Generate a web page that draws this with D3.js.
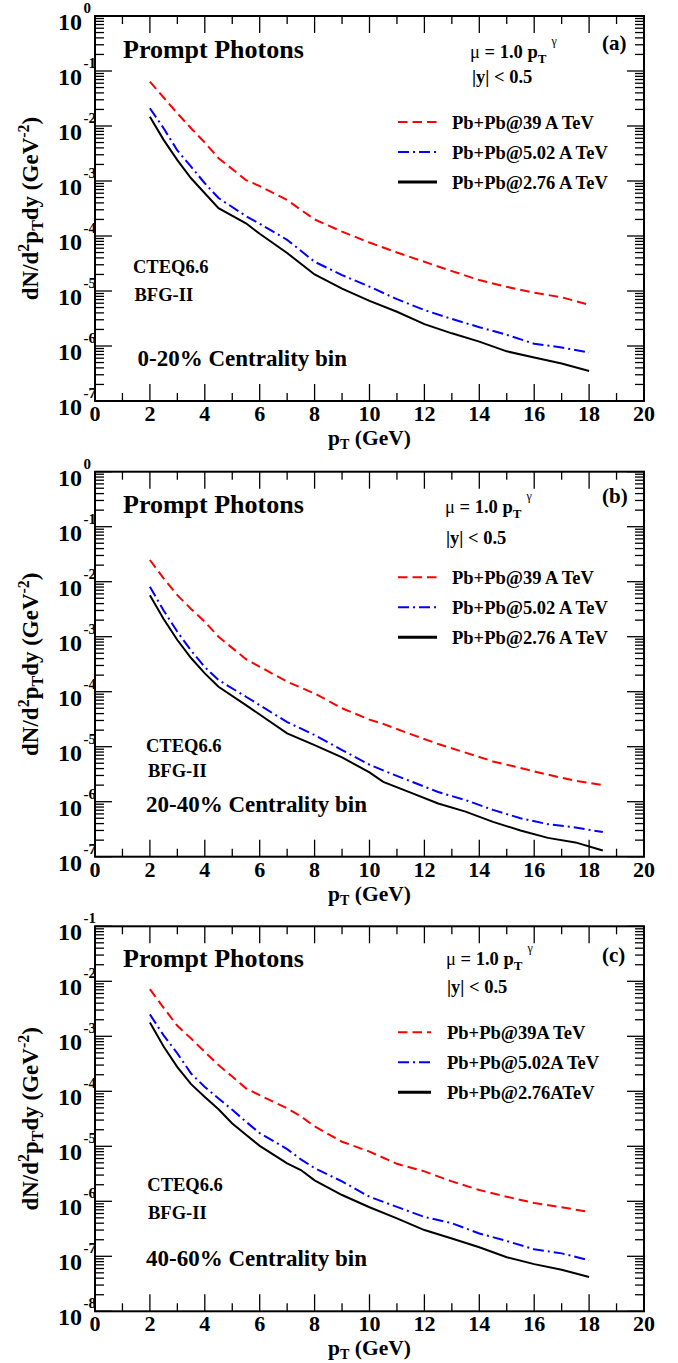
<!DOCTYPE html>
<html><head><meta charset="utf-8">
<script src="https://cdn.jsdelivr.net/npm/d3@7/dist/d3.min.js"></script>
<style>
body{margin:0;background:#fff}
text{font-family:"Liberation Serif","Times New Roman",serif;font-weight:bold;fill:#000}
</style>
</head><body>
<svg id="chart" width="678" height="1363"></svg>
<script>
// ---------- data ----------
const seriesLabelsAB = ["Pb+Pb@39 A TeV", "Pb+Pb@5.02 A TeV", "Pb+Pb@2.76 A TeV"];
const seriesLabelsC  = ["Pb+Pb@39A TeV", "Pb+Pb@5.02A TeV", "Pb+Pb@2.76ATeV"];
const xTicks = [0,2,4,6,8,10,12,14,16,18,20];

// panel (a) 0-20%
const pT_a = [2,2.5,3,3.5,4,4.5,5.5,6,7,8,9,10,11,12,13,14,15,16,17,18];
const a_39   = [0.064,0.033,0.017,9.1e-3,5.0e-3,2.6e-3,1.04e-3,8.1e-4,4.5e-4,2.0e-4,1.2e-4,7.6e-5,5.0e-5,3.4e-5,2.3e-5,1.58e-5,1.19e-5,9.3e-6,7.7e-6,5.6e-6];
const a_502  = [0.021,9.1e-3,3.6e-3,1.82e-3,9.1e-4,4.9e-4,2.3e-4,1.67e-4,8.5e-5,3.4e-5,1.95e-5,1.2e-5,7.1e-6,4.5e-6,3.1e-6,2.2e-6,1.6e-6,1.1e-6,9.4e-7,7.6e-7];
const a_276  = [0.0148,5.6e-3,2.4e-3,1.12e-3,6.0e-4,3.2e-4,1.7e-4,1.1e-4,4.9e-5,2.0e-5,1.1e-5,6.6e-6,4.2e-6,2.5e-6,1.7e-6,1.2e-6,8.0e-7,6.2e-7,4.8e-7,3.5e-7];

// panel (b) 20-40%
const pT_b = [2,2.5,3,3.5,4,4.5,5.5,7,8,9,10,10.5,11.5,12.5,13.5,14.5,15.5,16.5,17.5,18.5];
const b_39   = [0.0248,0.0115,5.7e-3,3.2e-3,1.87e-3,1.0e-3,3.9e-4,1.52e-4,9.3e-5,5.0e-5,3.1e-5,2.6e-5,1.69e-5,1.12e-5,7.8e-6,5.4e-6,4.1e-6,3.1e-6,2.4e-6,2.0e-6];
const b_502  = [8.1e-3,3.0e-3,1.23e-3,5.6e-4,2.8e-4,1.63e-4,8.1e-5,2.8e-5,1.63e-5,8.7e-6,4.7e-6,3.7e-6,2.35e-6,1.5e-6,1.07e-6,7.1e-7,5.0e-7,3.9e-7,3.4e-7,2.8e-7];
const b_276  = [5.7e-3,2.1e-3,8.7e-4,4.1e-4,2.15e-4,1.23e-4,5.7e-5,1.75e-5,1.07e-5,6.4e-6,3.4e-6,2.3e-6,1.46e-6,9.3e-7,6.6e-7,4.3e-7,3.0e-7,2.2e-7,1.82e-7,1.3e-7];

// panel (c) 40-60%
const pT_c = [2,2.5,3,3.5,4,4.5,5,5.5,6,7,7.5,8,9,10,11,12,13,14,15,16,17,18];
const c_39   = [7.2e-3,3.3e-3,1.55e-3,9.1e-4,5.2e-4,3.0e-4,1.85e-4,1.13e-4,8.5e-5,4.9e-5,3.5e-5,2.3e-5,1.21e-5,8.0e-6,4.8e-6,3.5e-6,2.3e-6,1.6e-6,1.21e-6,9.3e-7,7.8e-7,6.4e-7];
const c_502  = [2.5e-3,1.04e-3,4.9e-4,2.1e-4,1.2e-4,7.4e-5,4.6e-5,2.8e-5,1.74e-5,8.9e-6,5.8e-6,4.0e-6,2.3e-6,1.21e-6,7.9e-7,5.2e-7,4.0e-7,2.6e-7,1.9e-7,1.34e-7,1.13e-7,8.5e-8];
const c_276  = [1.78e-3,6.5e-4,2.75e-4,1.35e-4,7.9e-5,4.7e-5,2.6e-5,1.62e-5,1.02e-5,4.9e-6,3.7e-6,2.4e-6,1.3e-6,7.8e-7,4.9e-7,3.0e-7,2.1e-7,1.46e-7,9.6e-8,7.2e-8,5.7e-8,4.2e-8];

// ---------- drawing ----------
const svg = d3.select("#chart");
const styles = [
  {color:"#ff0000", dash:"9.5,5"},
  {color:"#0000ff", dash:"11,4,2,4"},
  {color:"#000000", dash:null}
];

const panels = [
  {top:16, ymin:1e-7, ymax:1, x:pT_a, ys:[a_39,a_502,a_276], tag:"(a)", cent:"0-20% Centrality bin",
   labels:seriesLabelsAB, muX:470, muY:58, absY:83, absX:472, tagY:50, ppY:58,
   legY:[122,152,182], legX2:437, legTX:452,
   cteq:[133,273], bfg:[134.5,300.5], centPos:[137.5,366]},
  {top:471.7, ymin:1e-7, ymax:1, x:pT_b, ys:[b_39,b_502,b_276], tag:"(b)", cent:"20-40% Centrality bin",
   labels:seriesLabelsAB, muX:445, muY:512.7, absY:544, absX:446, tagY:503.3, ppY:512.7,
   legY:[577.3,607.3,637.3], legX2:437, legTX:452,
   cteq:[146,751.7], bfg:[148,777.3], centPos:[146,811.7]},
  {top:926.3, ymin:1e-8, ymax:1e-1, x:pT_c, ys:[c_39,c_502,c_276], tag:"(c)", cent:"40-60% Centrality bin",
   labels:seriesLabelsC, muX:446, muY:965, absY:993.3, absX:447, tagY:961.7, ppY:967.3,
   legY:[1032.3,1062.3,1092.3], legX2:431, legTX:447,
   cteq:[147.3,1190.7], bfg:[148,1219.3], centPos:[146,1266]}
];

const L = 95, R = 644, H = 385;
const x = d3.scaleLinear().domain([0,20]).range([L,R]);

panels.forEach(p => {
  const T = p.top, B = p.top + H;
  const y = d3.scaleLog().domain([p.ymin, p.ymax]).range([B, T]);
  const g = svg.append("g");

  // minor/major x ticks (top & bottom)
  d3.range(0,21,1).forEach(v => {
    const len = (v % 2 === 0) ? 17 : 8;
    g.append("line").attr("x1",x(v)).attr("x2",x(v)).attr("y1",B).attr("y2",B-len).attr("stroke","#000").attr("stroke-width",1.3);
    g.append("line").attr("x1",x(v)).attr("x2",x(v)).attr("y1",T).attr("y2",T+len).attr("stroke","#000").attr("stroke-width",1.3);
  });
  // y ticks
  const e0 = Math.round(Math.log10(p.ymin)), e1 = Math.round(Math.log10(p.ymax));
  for (let e = e0; e <= e1; e++) {
    for (let m = 1; m <= 9; m++) {
      const v = m * Math.pow(10, e);
      if (v > p.ymax * 1.0001) continue;
      const len = m === 1 ? 17 : 9;
      const yy = y(v);
      g.append("line").attr("x1",L).attr("x2",L+len).attr("y1",yy).attr("y2",yy).attr("stroke","#000").attr("stroke-width",1.3);
      g.append("line").attr("x1",R).attr("x2",R-len).attr("y1",yy).attr("y2",yy).attr("stroke","#000").attr("stroke-width",1.3);
    }
    const yy = y(Math.pow(10,e));
    g.append("text").attr("x",82).attr("y",yy+14).attr("text-anchor","end").style("font-size","24px").text("10");
    g.append("text").attr("x",83.5).attr("y",yy-3).style("font-size","15px").text(e === 0 ? "0" : "-" + (-e));
  }
  // x tick labels
  xTicks.forEach(v => {
    g.append("text").attr("x",x(v)).attr("y",B+20).attr("text-anchor","middle").style("font-size","22px").text(v);
  });
  // axis titles
  const xt = g.append("text").attr("x",(L+R)/2).attr("y",B+44).attr("text-anchor","middle").style("font-size","21.5px");
  xt.append("tspan").text("p");
  xt.append("tspan").attr("dy",4).style("font-size","14px").text("T");
  xt.append("tspan").attr("dy",-4).text(" (GeV)");

  const yt = g.append("text").attr("transform",`translate(38,${(T+B)/2}) rotate(-90)`).attr("text-anchor","middle").style("font-size","23px");
  yt.append("tspan").text("dN/d");
  yt.append("tspan").attr("dy",-9).style("font-size","16px").text("2");
  yt.append("tspan").attr("dy",9).text("p");
  yt.append("tspan").attr("dy",5).style("font-size","16px").text("T");
  yt.append("tspan").attr("dy",-5).text("dy (GeV");
  yt.append("tspan").attr("dy",-9).style("font-size","16px").text("-2");
  yt.append("tspan").attr("dy",9).text(")");

  // curves
  const clipId = "clip" + p.tag.replace(/[()]/g,"");
  svg.append("clipPath").attr("id",clipId).append("rect").attr("x",L).attr("y",T).attr("width",R-L).attr("height",H);
  const line = d3.line().x((d,i)=>x(p.x[i])).y(d=>y(d));
  p.ys.forEach((vals,k) => {
    g.append("path").datum(vals).attr("d",line).attr("fill","none")
      .attr("stroke",styles[k].color).attr("stroke-width",2)
      .attr("stroke-dasharray",styles[k].dash).attr("clip-path",`url(#${clipId})`);
  });

  // frame
  g.append("rect").attr("x",L).attr("y",T).attr("width",R-L).attr("height",H).attr("fill","none").attr("stroke","#000").attr("stroke-width",2);

  // annotations
  g.append("text").attr("x",123).attr("y",p.ppY).style("font-size","26px").text("Prompt Photons");
  g.append("text").attr("x",602).attr("y",p.tagY).style("font-size","21px").text(p.tag);
  const mu = g.append("text").attr("x",p.muX).attr("y",p.muY).style("font-size","18.5px");
  mu.append("tspan").style("font-weight","normal").text("\u03bc");
  mu.append("tspan").text(" = 1.0 p");
  mu.append("tspan").attr("dy",5).style("font-size","13px").text("T");
  mu.append("tspan").attr("dy",-18).attr("dx",5).style("font-size","12px").style("font-weight","normal").text("\u03b3");
  g.append("text").attr("x",p.absX).attr("y",p.absY).style("font-size","18.5px").text("|y| < 0.5");

  p.labels.forEach((lab,k) => {
    g.append("line").attr("x1",398).attr("x2",p.legX2).attr("y1",p.legY[k]).attr("y2",p.legY[k])
      .attr("stroke",styles[k].color).attr("stroke-width",k===2?3:2).attr("stroke-dasharray",styles[k].dash);
    g.append("text").attr("x",p.legTX).attr("y",p.legY[k]+6.5).style("font-size","18.5px").text(lab);
  });

  g.append("text").attr("x",p.cteq[0]).attr("y",p.cteq[1]).style("font-size","18.5px").text("CTEQ6.6");
  g.append("text").attr("x",p.bfg[0]).attr("y",p.bfg[1]).style("font-size","18.5px").text("BFG-II");
  g.append("text").attr("x",p.centPos[0]).attr("y",p.centPos[1]).style("font-size","23px").text(p.cent);
});
</script>
</body></html>
